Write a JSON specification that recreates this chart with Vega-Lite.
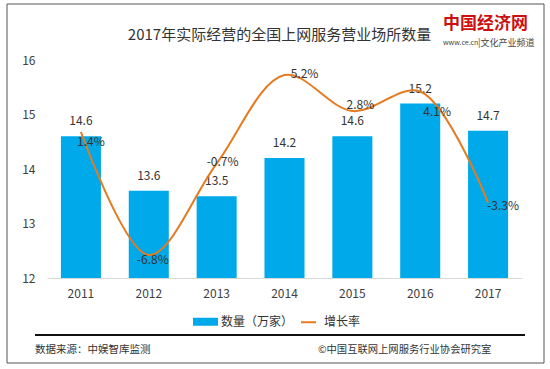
{
  "$schema": "https://vega.github.io/schema/vega-lite/v6.json",
  "width": 475,
  "height": 218,
  "autosize": {"type": "none"},
  "padding": {"left": 47, "top": 60, "right": 28, "bottom": 91},
  "background": "white",
  "config": {"font": "Noto Sans CJK SC", "view": {"stroke": null}},
  "title": {
    "text": "2017年实际经营的全国上网服务营业场所数量",
    "fontSize": 15,
    "fontWeight": "normal",
    "color": "#333333",
    "anchor": "middle",
    "frame": "group",
    "dx": -5,
    "offset": -39
  },
  "datasets": {
    "main": [
      {"year": "2011", "count": 14.6, "growth": 1.4, "glabel": "1.4%"},
      {"year": "2012", "count": 13.6, "growth": -6.8, "glabel": "-6.8%"},
      {"year": "2013", "count": 13.5, "growth": -0.7, "glabel": "-0.7%"},
      {"year": "2014", "count": 14.2, "growth": 5.2, "glabel": "5.2%"},
      {"year": "2015", "count": 14.6, "growth": 2.8, "glabel": "2.8%"},
      {"year": "2016", "count": 15.2, "growth": 4.1, "glabel": "4.1%"},
      {"year": "2017", "count": 14.7, "growth": -3.3, "glabel": "-3.3%"}
    ],
    "note": [{}]
  },
  "layer": [
    {
      "data": {"name": "note"},
      "mark": {"type": "rect", "fill": null, "stroke": "#555555", "strokeWidth": 1},
      "encoding": {"x": {"value": -40}, "x2": {"value": 497}, "y": {"value": -56}, "y2": {"value": 303}}
    },
    {
      "data": {"name": "note"},
      "mark": {"type": "rule", "stroke": "#111111", "strokeWidth": 2},
      "encoding": {"x": {"value": -12}, "x2": {"value": 478}, "y": {"value": 275}}
    },
    {
      "data": {"name": "note"},
      "mark": {"type": "text", "align": "left", "baseline": "middle", "fontSize": 10.5, "color": "#333333"},
      "encoding": {"x": {"value": -12}, "y": {"value": 290}, "text": {"value": "数据来源：中娱智库监测"}}
    },
    {
      "data": {"name": "note"},
      "mark": {"type": "text", "align": "left", "baseline": "middle", "fontSize": 10.3, "color": "#333333"},
      "encoding": {"x": {"value": 271}, "y": {"value": 290}, "text": {"value": "©中国互联网上网服务行业协会研究室"}}
    },
    {
      "data": {"name": "note"},
      "mark": {"type": "text", "align": "left", "baseline": "middle", "fontSize": 17, "fontWeight": "bold", "color": "#CC1010"},
      "encoding": {"x": {"value": 396}, "y": {"value": -36}, "text": {"value": "中国经济网"}}
    },
    {
      "data": {"name": "note"},
      "mark": {"type": "text", "align": "left", "baseline": "middle", "fontSize": 7, "color": "#444444"},
      "encoding": {"x": {"value": 396}, "y": {"value": -17}, "text": {"value": "www.ce.cn"}}
    },
    {
      "data": {"name": "note"},
      "mark": {"type": "text", "align": "left", "baseline": "middle", "fontSize": 9, "color": "#444444"},
      "encoding": {"x": {"value": 431}, "y": {"value": -17}, "text": {"value": "|文化产业频道"}}
    },
    {
      "data": {"name": "main"},
      "encoding": {
        "x": {
          "field": "year",
          "type": "ordinal",
          "scale": {"paddingInner": 0.41, "paddingOuter": 0.205},
          "axis": {
            "title": null,
            "labelAngle": 0,
            "labelFontSize": 12,
            "labelColor": "#404040",
            "labelPadding": 10,
            "ticks": false,
            "domainColor": "#d9d9d9",
            "domainWidth": 1
          }
        },
        "y": {
          "field": "count",
          "type": "quantitative",
          "scale": {"domain": [12, 16], "zero": false, "nice": false},
          "axis": {
            "title": null,
            "values": [12, 13, 14, 15, 16],
            "grid": false,
            "domain": false,
            "ticks": false,
            "labelFontSize": 12,
            "labelColor": "#404040",
            "labelPadding": 12
          }
        }
      },
      "layer": [
        {
          "mark": {"type": "bar", "clip": true},
          "encoding": {
            "color": {
              "datum": "数量（万家）",
              "scale": {"domain": ["数量（万家）", "增长率"], "range": ["#00A9E9", "#E47B21"]},
              "legend": {
                "title": null,
                "orient": "none",
                "direction": "horizontal",
                "legendX": 146,
                "legendY": 249,
                "padding": 0,
                "labelFontSize": 12,
                "labelColor": "#333333",
                "labelOffset": 3,
                "columnPadding": 2,
                "symbolSize": 529,
                "encode": {
                  "symbols": {
                    "update": {
                      "shape": {"signal": "datum.value === '增长率' ? 'stroke' : 'M-1,-0.26H1V0.26H-1Z'"},
                      "fill": {"signal": "datum.value === '增长率' ? 'transparent' : '#00A9E9'"},
                      "stroke": {"signal": "datum.value === '增长率' ? '#E47B21' : 'transparent'"},
                      "strokeWidth": {"value": 2},
                      "size": {"signal": "datum.value === '增长率' ? 225 : 529"},
                      "opacity": {"value": 1}
                    }
                  }
                }
              }
            }
          }
        },
        {
          "mark": {"type": "text", "fontSize": 12, "color": "#333333", "dy": -15, "baseline": "middle"},
          "encoding": {"text": {"field": "count", "type": "quantitative", "format": ".1f"}}
        }
      ]
    },
    {
      "data": {"name": "main"},
      "encoding": {
        "x": {"field": "year", "type": "ordinal"},
        "y": {
          "field": "growth",
          "type": "quantitative",
          "scale": {"domain": [-8.33, 6.2], "zero": false, "nice": false},
          "axis": null
        },
        "text": {"field": "glabel"}
      },
      "layer": [
        {
          "mark": {"type": "line", "interpolate": "catmull-rom", "strokeWidth": 2},
          "encoding": {"color": {"datum": "增长率"}, "text": null}
        },
        {
          "transform": [{"filter": "datum.year === '2011'"}],
          "mark": {"type": "text", "fontSize": 12, "color": "#333333", "dx": 10, "dy": 10, "baseline": "middle"}
        },
        {
          "transform": [{"filter": "datum.year === '2012'"}],
          "mark": {"type": "text", "fontSize": 12, "color": "#333333", "dx": 4, "dy": 5, "baseline": "middle"}
        },
        {
          "transform": [{"filter": "datum.year === '2013'"}],
          "mark": {"type": "text", "fontSize": 12, "color": "#333333", "dx": 6, "dy": -2, "baseline": "middle"}
        },
        {
          "transform": [{"filter": "datum.year === '2014'"}],
          "mark": {"type": "text", "fontSize": 12, "color": "#333333", "dx": 20, "dy": -1, "baseline": "middle"}
        },
        {
          "transform": [{"filter": "datum.year === '2015'"}],
          "mark": {"type": "text", "fontSize": 12, "color": "#333333", "dx": 8, "dy": -6, "baseline": "middle"}
        },
        {
          "transform": [{"filter": "datum.year === '2016'"}],
          "mark": {"type": "text", "fontSize": 12, "color": "#333333", "dx": 17, "dy": 20, "baseline": "middle"}
        },
        {
          "transform": [{"filter": "datum.year === '2017'"}],
          "mark": {"type": "text", "fontSize": 12, "color": "#333333", "dx": 15, "dy": 3, "baseline": "middle"}
        }
      ]
    }
  ],
  "resolve": {"scale": {"y": "independent"}}
}
